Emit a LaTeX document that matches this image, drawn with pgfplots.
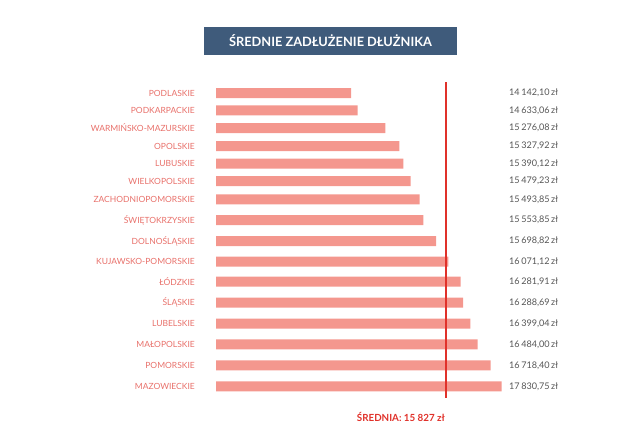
\documentclass[border=0pt]{standalone}
\usepackage{pgfplots}
\pgfplotsset{compat=1.18}
\usepackage{pgfplotstable}
\usepackage{fontspec}
\setmainfont{Lato}
\definecolor{barc}{HTML}{F4978E}
\definecolor{labc}{HTML}{E8706A}
\definecolor{valc}{HTML}{555555}
\definecolor{meanc}{HTML}{E0312A}
\definecolor{titlec}{HTML}{3F5B7B}
% pos = row centre (px from top), len = drawn bar length (px), val = value in zl
\pgfplotstableread{
pos len val
93 135 14142.10
110.3 141.7 14633.06
128 169.3 15276.08
146 183.3 15327.92
163.5 187.3 15390.12
181 194.7 15479.23
199.3 203.7 15493.85
220 207.3 15553.85
241 220 15698.82
261.7 232.3 16071.12
281.7 244.7 16281.91
302.7 247 16288.69
323.7 254.3 16399.04
344.3 261.7 16484.00
365.3 274.7 16718.40
386.3 285.7 17830.75
}\data
\begin{document}
\begin{tikzpicture}
\useasboundingbox (0,0) rectangle (640pt,-444pt);
\node[fill=titlec, minimum width=253pt, minimum height=28.5pt, inner sep=0pt,
      text=white, font=\fontsize{12.8}{14}\selectfont\bfseries] at (330.5pt,-41pt)
      {ŚREDNIE ZADŁUŻENIE DŁUŻNIKA};
\begin{axis}[
  at={(216pt,-80pt)}, anchor=north west,
  scale only axis, width=290pt, height=320pt,
  xmin=0, xmax=290, ymin=80, ymax=400, y dir=reverse,
  clip=false,
  axis line style={draw=none},
  major tick length=0pt,
  xtick=\empty,
  ytick=data,
  yticklabels={PODLASKIE,PODKARPACKIE,WARMIŃSKO-MAZURSKIE,OPOLSKIE,LUBUSKIE,WIELKOPOLSKIE,ZACHODNIOPOMORSKIE,ŚWIĘTOKRZYSKIE,DOLNOŚLĄSKIE,KUJAWSKO-POMORSKIE,ŁÓDZKIE,ŚLĄSKIE,LUBELSKIE,MAŁOPOLSKIE,POMORSKIE,MAZOWIECKIE},
  yticklabel style={anchor=east, inner sep=0pt, xshift=-21pt, text=labc, font=\fontsize{8.5}{10}\selectfont},
]
\addplot[xbar, bar width=10pt, bar shift=0pt, fill=barc, draw=none] table[x=len, y=pos] {\data};
\addplot[draw=none, mark=none, nodes near coords={\pgfmathprintnumber[fixed, fixed zerofill, precision=2, use comma, 1000 sep={\,}, assume math mode=true]{\pgfplotspointmeta}\,zł},
  point meta=explicit,
  every node near coord/.append style={anchor=west, inner sep=0pt, text=valc, font=\fontsize{9.1}{10}\selectfont}]
  table[x expr=293, y=pos, meta=val] {\data};
\addplot[meanc, line width=2pt] coordinates {(230,82) (230,398)};
\node[anchor=east, inner sep=0pt, text=meanc, font=\fontsize{9.8}{11}\selectfont\bfseries] at (axis cs:229,417) {ŚREDNIA: 15 827 zł};
\end{axis}
\end{tikzpicture}
\end{document}
